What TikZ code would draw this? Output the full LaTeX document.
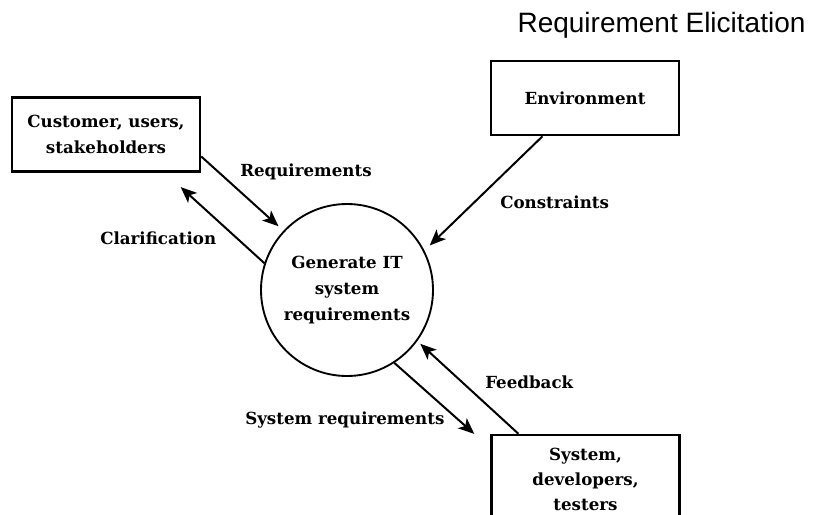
\documentclass[tikz,border=0pt]{standalone}
\usepackage{fontspec}
\setmainfont{DejaVu Serif}
\newfontfamily\titlefont{Liberation Sans}
\usepackage{tikz}
\usetikzlibrary{arrows.meta}

\begin{document}
\begin{tikzpicture}[x=0.75pt, y=-0.75pt,
  every node/.style={font=\fontsize{12.5}{19.5}\selectfont\bfseries},
  box/.style={draw,line width=1.9pt,align=center,minimum width=141pt,minimum height=55.5pt,inner sep=2pt},
  proc/.style={draw,circle,line width=1.4pt,align=center,minimum size=129pt,inner sep=0pt},
  lbl/.style={anchor=west,inner sep=0pt},
  arr/.style={line width=1.5pt,-{Stealth[length=12pt,width=10pt,inset=3pt]}}]
\useasboundingbox[fill=white] (0,0) rectangle (816,514);
\node[font=\titlefont\fontsize{21}{25}\selectfont,anchor=base] (title) at (661.5,32) {Requirement Elicitation};
\node[box] (cust) at (106,134.5) {Customer, users,\\stakeholders};
\node[box] (env) at (585,98) {Environment};
\node[proc] (gen) at (347,290) {Generate IT\\system\\requirements};
\node[box,minimum height=66pt,font=\fontsize{12.5}{18.75}\selectfont\bfseries] (sys) at (585.5,479) {System,\\developers,\\testers};
% flow labels
\node[lbl] (lreq) at (240,172) {Requirements};
\node[lbl] (lclar) at (100,238) {Clarification};
\node[lbl] (lcons) at (500,202) {Constraints};
\node[lbl] (lfeed) at (485,382) {Feedback};
\node[lbl] (lsreq) at (245,420) {System requirements};
% flows
\draw[arr,shorten >=5pt] (cust.-13.5) -- (gen.137.6);
\draw[arr,shorten >=16pt] (gen.162) -- (cust.-33.8);
\draw[arr,shorten >=5.5pt] (env.222.8) -- (gen.27.4);
\draw[arr,shorten >=16pt] (gen.-57.8) -- (sys.162.8);
\draw[arr,shorten >=3pt] (sys.146.3) -- (gen.-36);
\end{tikzpicture}
\end{document}
